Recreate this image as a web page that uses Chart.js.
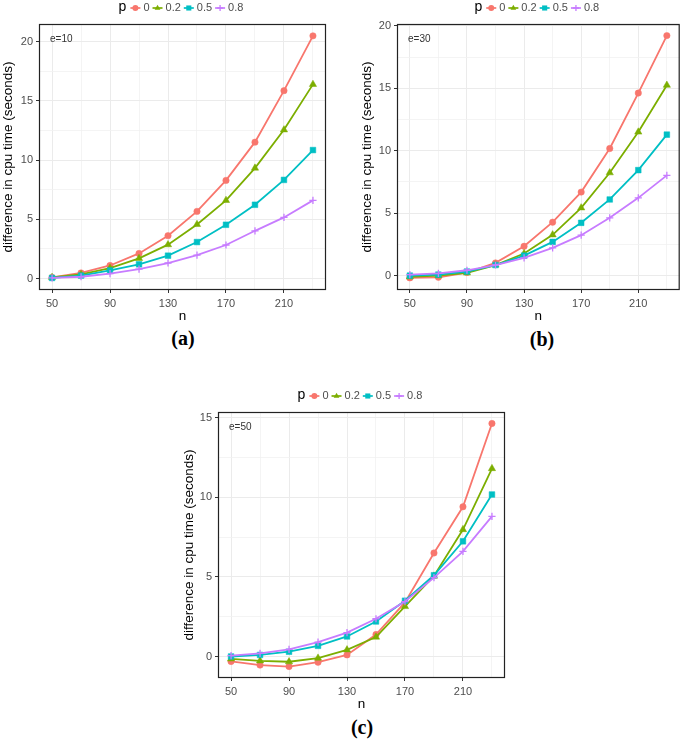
<!DOCTYPE html>
<html>
<head>
<meta charset="utf-8">
<script src="https://cdn.jsdelivr.net/npm/chart.js@4.4.1/dist/chart.umd.min.js"></script>
<style>
  body { margin:0; background:#fff; width:685px; height:739px; position:relative; overflow:hidden; }
  canvas { position:absolute; }
  .cap { position:absolute; font-family:"Liberation Serif", serif; font-weight:bold; font-size:20px;
         color:#000; transform:translate(-50%,-50%); line-height:1; }
</style>
</head>
<body>
<canvas id="ca" width="340" height="325" style="left:0px;top:0px"></canvas>
<canvas id="cb" width="326" height="325" style="left:359px;top:0px"></canvas>
<canvas id="cc" width="334" height="325" style="left:181px;top:388px"></canvas>
<div class="cap" style="left:183px;top:338px">(a)</div>
<div class="cap" style="left:542px;top:339px">(b)</div>
<div class="cap" style="left:362px;top:727px">(c)</div>
<script>
// x values (n) and series labels
var nValues = [50, 70, 90, 110, 130, 150, 170, 190, 210, 230];
var pLabels = ['0', '0.2', '0.5', '0.8'];
var colors = ['#F8766D', '#7CAE00', '#00BFC4', '#C77CFF'];
var markers = ['circle', 'triangle', 'rect', 'cross'];

// tick values
var xTicks = [50, 70, 90, 110, 130, 150, 170, 190, 210, 230];
var xMajor = [50, 90, 130, 170, 210];
var yTicks = [-2.5, 0, 2.5, 5, 7.5, 10, 12.5, 15, 17.5, 20, 22.5];
var yMajor = [0, 5, 10, 15, 20];

// (a) e=10
var e10_p0  = [0.1, 0.47, 1.1, 2.12, 3.62, 5.67, 8.29, 11.52, 15.87, 20.5];
var e10_p02 = [0.1, 0.35, 0.88, 1.7, 2.86, 4.57, 6.6, 9.33, 12.56, 16.4];
var e10_p05 = [0.05, 0.25, 0.68, 1.2, 1.93, 3.08, 4.54, 6.23, 8.33, 10.85];
var e10_p08 = [0.05, 0.15, 0.42, 0.8, 1.31, 1.98, 2.83, 4.03, 5.16, 6.6];

// (b) e=30
var e30_p0  = [-0.18, -0.13, 0.25, 1.02, 2.35, 4.28, 6.69, 10.18, 14.62, 19.22];
var e30_p02 = [-0.1, 0.0, 0.22, 0.85, 1.77, 3.27, 5.43, 8.24, 11.5, 15.25];
var e30_p05 = [0.0, 0.08, 0.33, 0.85, 1.6, 2.7, 4.23, 6.1, 8.45, 11.29];
var e30_p08 = [0.08, 0.18, 0.43, 0.85, 1.42, 2.22, 3.24, 4.63, 6.23, 8.03];

// (c) e=50
var e50_p0  = [-0.31, -0.54, -0.63, -0.36, 0.1, 1.38, 3.4, 6.5, 9.4, 14.63];
var e50_p02 = [-0.15, -0.27, -0.33, -0.1, 0.42, 1.22, 3.14, 5.05, 7.97, 11.8];
var e50_p05 = [0.0, 0.1, 0.3, 0.67, 1.26, 2.2, 3.5, 5.1, 7.23, 10.17];
var e50_p08 = [0.05, 0.2, 0.45, 0.9, 1.5, 2.37, 3.45, 4.95, 6.6, 8.8];

Chart.defaults.font.family = '"Liberation Sans", Arial, sans-serif';
Chart.defaults.color = '#4d4d4d';

function drawMarker(ctx, style, x, y, r, color) {
  ctx.save();
  ctx.fillStyle = color;
  ctx.strokeStyle = color;
  ctx.lineWidth = 1.3;
  ctx.beginPath();
  if (style == 'circle') {
    ctx.arc(x, y, r, 0, Math.PI * 2);
    ctx.fill();
  } else if (style == 'triangle') {
    ctx.moveTo(x, y - r * 1.1);
    ctx.lineTo(x + r * 0.95, y + r * 0.55);
    ctx.lineTo(x - r * 0.95, y + r * 0.55);
    ctx.closePath();
    ctx.fill();
  } else if (style == 'rect') {
    ctx.fillRect(x - r * 0.85, y - r * 0.85, r * 1.7, r * 1.7);
  } else {
    ctx.moveTo(x - r, y); ctx.lineTo(x + r, y);
    ctx.moveTo(x, y - r); ctx.lineTo(x, y + r);
    ctx.stroke();
  }
  ctx.restore();
}

// frame around the panel + the e=.. note
var framePlugin = {
  id: 'frame',
  afterDatasetsDraw: function(chart, args, opts) {
    var a = chart.chartArea, ctx = chart.ctx;
    ctx.save();
    ctx.font = '10px "Liberation Sans"';
    ctx.fillStyle = '#333';
    ctx.textBaseline = 'middle';
    ctx.fillText(opts.note, a.left + 11, a.top + 15);
    ctx.strokeStyle = '#222';
    ctx.lineWidth = 1.2;
    ctx.strokeRect(a.left + 0.5, a.top + 0.5, a.right - a.left - 1, a.bottom - a.top - 1);
    ctx.restore();
  }
};

// ggplot style legend: "p" then line+marker+label for each series
var pLegend = {
  id: 'pLegend',
  afterDraw: function(chart) {
    var a = chart.chartArea, ctx = chart.ctx;
    var y = a.top - 16;
    ctx.save();
    ctx.textBaseline = 'middle';
    ctx.font = '14px "Liberation Sans"';
    var pw = ctx.measureText('p').width;
    ctx.font = '11px "Liberation Sans"';
    var total = pw + 4;
    pLabels.forEach(function(l) { total += 10 + 3 + ctx.measureText(l).width + 3; });
    var x = (a.left + a.right) / 2 - total / 2;
    ctx.font = '14px "Liberation Sans"';
    ctx.fillStyle = '#000';
    ctx.fillText('p', x, y - 1);
    x += pw + 4;
    ctx.font = '11px "Liberation Sans"';
    for (var i = 0; i < pLabels.length; i++) {
      ctx.strokeStyle = colors[i];
      ctx.lineWidth = 1.7;
      ctx.beginPath(); ctx.moveTo(x, y); ctx.lineTo(x + 10, y); ctx.stroke();
      drawMarker(ctx, markers[i], x + 5, y, 3, colors[i]);
      x += 13;
      ctx.fillStyle = '#4d4d4d';
      ctx.fillText(pLabels[i], x, y);
      x += ctx.measureText(pLabels[i]).width + 3;
    }
    ctx.restore();
  }
};

function makePanel(id, series, note, yMin, yMax, yw, padRight) {
  var radii = [3.2, 4.2, 4.0, 3.6];
  var datasets = series.map(function(vals, i) {
    return {
      label: pLabels[i],
      data: nValues.map(function(n, k) { return {x: n, y: vals[k]}; }),
      borderColor: colors[i],
      backgroundColor: colors[i],
      borderWidth: 1.8,
      pointStyle: markers[i],
      pointRadius: radii[i],
      pointBorderWidth: i == 3 ? 1.3 : 0.5,
      pointBackgroundColor: colors[i],
      pointBorderColor: colors[i],
      order: 3 - i
    };
  });

  function majorOf(list) {
    return function(v) { return list.indexOf(v) >= 0; };
  }
  var isXMajor = majorOf(xMajor), isYMajor = majorOf(yMajor);

  new Chart(document.getElementById(id), {
    type: 'line',
    data: { datasets: datasets },
    plugins: [framePlugin, pLegend],
    options: {
      responsive: false,
      animation: false,
      devicePixelRatio: 1,
      layout: { padding: { top: 24, right: padRight, left: 0, bottom: 0 } },
      plugins: {
        legend: { display: false },
        tooltip: { enabled: false },
        frame: { note: note }
      },
      scales: {
        x: {
          type: 'linear',
          min: 41, max: 239,
          afterBuildTicks: function(s) { s.ticks = xTicks.map(function(v) { return {value: v}; }); },
          afterFit: function(s) { s.height = 35; },
          ticks: {
            autoSkip: false, maxRotation: 0, padding: 4,
            font: { size: 11 },
            callback: function(v) { return isXMajor(v) ? String(v) : ''; }
          },
          grid: {
            color: function(c) { return isXMajor(c.tick.value) ? '#ebebeb' : '#f1f1f1'; },
            lineWidth: function(c) { return isXMajor(c.tick.value) ? 1 : 0.8; },
            tickColor: function(c) { return isXMajor(c.tick.value) ? '#333' : 'rgba(0,0,0,0)'; },
            tickLength: 3
          },
          border: { display: false },
          title: { display: true, text: 'n', color: '#000', font: { size: 13.5 }, padding: { top: 0, bottom: 1 } }
        },
        y: {
          type: 'linear',
          min: yMin, max: yMax,
          afterBuildTicks: function(s) {
            s.ticks = yTicks.filter(function(v) { return v >= yMin && v <= yMax; })
                            .map(function(v) { return {value: v}; });
          },
          afterFit: function(s) { s.width = yw; },
          ticks: {
            padding: 3,
            font: { size: 11 },
            callback: function(v) { return isYMajor(v) ? String(v) : ''; }
          },
          grid: {
            color: function(c) { return isYMajor(c.tick.value) ? '#ebebeb' : '#f1f1f1'; },
            lineWidth: function(c) { return isYMajor(c.tick.value) ? 1 : 0.8; },
            tickColor: function(c) { return isYMajor(c.tick.value) ? '#333' : 'rgba(0,0,0,0)'; },
            tickLength: 3
          },
          border: { display: false },
          title: { display: true, text: 'difference in cpu time (seconds)', color: '#000', font: { size: 13.5 }, padding: { top: 0, bottom: 0 } }
        }
      }
    }
  });
}

makePanel('ca', [e10_p0, e10_p02, e10_p05, e10_p08], 'e=10', -0.97, 21.5, 39, 14);
makePanel('cb', [e30_p0, e30_p02, e30_p05, e30_p08], 'e=30', -1.15, 20.15, 38, 2);
makePanel('cc', [e50_p0, e50_p02, e50_p05, e50_p08], 'e=50', -1.35, 15.35, 37, 10);
</script>
</body>
</html>
